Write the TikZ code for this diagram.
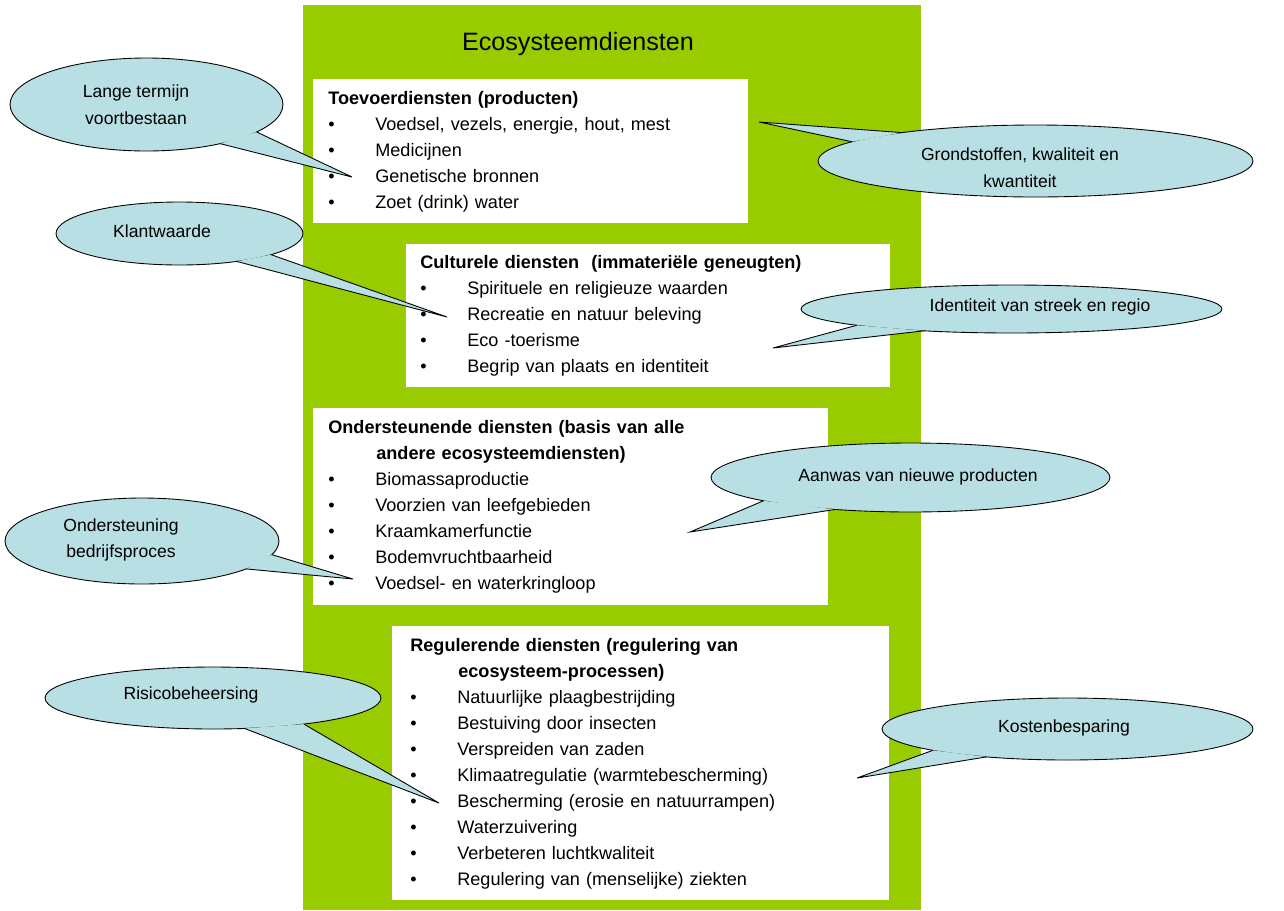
\documentclass[tikz,border=0pt]{standalone}
\usepackage{fontspec}
\setmainfont{Liberation Sans}
\usetikzlibrary{shapes.geometric, calc}
\definecolor{blad}{HTML}{99CC00}
\definecolor{ballonblauw}{HTML}{B8DFE3}
\newcommand{\punt}[1]{\makebox[0.94cm][l]{\textbullet}#1}

\begin{document}
\begin{tikzpicture}[x=0.02cm, y=-0.02cm,
  dienst/.style={rectangle, fill=white, anchor=north west, align=left, inner ysep=0pt, font=\fontsize{10.3}{14.8}\selectfont},
  ballon/.style={ellipse, draw=black, fill=ballonblauw, line width=0.5pt, inner sep=0pt, outer sep=0pt},
  ballontekst/.style={align=center, font=\fontsize{10}{15.2}\selectfont},
  staart/.style={draw=black, line width=0.5pt, line join=miter}
]
  \useasboundingbox (0,0) rectangle (1284,910);

  % groene achtergrond met titel
  \node[fill=blad, anchor=north west, minimum width=12.36cm, minimum height=18.1cm, inner sep=0pt] (kader) at (303,5) {};
  \node[font=\fontsize{14.3}{17}\selectfont] (titel) at (578,44) {Ecosysteemdiensten};

  % de vier soorten diensten
  \node[dienst, text width=8.1cm, inner xsep=0.3cm, minimum height=2.88cm] (toevoer) at (313,79)
    {\textbf{Toevoerdiensten (producten)}\\
     \punt{Voedsel, vezels, energie, hout, mest}\\
     \punt{Medicijnen}\\
     \punt{Genetische bronnen}\\
     \punt{Zoet (drink) water}};
  \node[dienst, text width=9.12cm, inner xsep=0.28cm, minimum height=2.86cm] (cultureel) at (406,244)
    {\textbf{Culturele diensten\ \ (immateriële geneugten)}\\
     \punt{Spirituele en religieuze waarden}\\
     \punt{Recreatie en natuur beleving}\\
     \punt{Eco -toerisme}\\
     \punt{Begrip van plaats en identiteit}};
  \node[dienst, text width=9.7cm, inner xsep=0.3cm, minimum height=3.94cm] (ondersteunend) at (313,408)
    {\textbf{Ondersteunende diensten (basis van alle}\\
     \hspace*{0.96cm}\textbf{andere ecosysteemdiensten)}\\
     \punt{Biomassaproductie}\\
     \punt{Voorzien van leefgebieden}\\
     \punt{Kraamkamerfunctie}\\
     \punt{Bodemvruchtbaarheid}\\
     \punt{Voedsel- en waterkringloop}};
  \node[dienst, text width=9.22cm, inner xsep=0.36cm, minimum height=5.48cm] (regulerend) at (392,626)
    {\textbf{Regulerende diensten (regulering van}\\
     \hspace*{0.96cm}\textbf{ecosysteem-processen)}\\
     \punt{Natuurlijke plaagbestrijding}\\
     \punt{Bestuiving door insecten}\\
     \punt{Verspreiden van zaden}\\
     \punt{Klimaatregulatie (warmtebescherming)}\\
     \punt{Bescherming (erosie en natuurrampen)}\\
     \punt{Waterzuivering}\\
     \punt{Verbeteren luchtkwaliteit}\\
     \punt{Regulering van (menselijke) ziekten}};

  % ballonnen
  \node[ballon, minimum width=5.46cm, minimum height=1.86cm] (lange) at (146.5,104.5) {};
  \node[ballon, minimum width=4.94cm, minimum height=1.26cm] (klant) at (179.5,233.5) {};
  \node[ballon, minimum width=8.7cm, minimum height=1.44cm] (grond) at (1035.5,161) {};
  \node[ballon, minimum width=8.42cm, minimum height=0.96cm] (identiteit) at (1011.5,309) {};
  \node[ballon, minimum width=7.98cm, minimum height=1.38cm] (aanwas) at (910.5,477.5) {};
  \node[ballon, minimum width=5.48cm, minimum height=1.72cm] (steun) at (142,541) {};
  \node[ballon, minimum width=6.72cm, minimum height=1.24cm] (risico) at (213,698) {};
  \node[ballon, minimum width=7.42cm, minimum height=1.24cm] (kosten) at (1067.5,729) {};

  \coordinate (pLange) at (352,177);
  \coordinate (pKlant) at (447,317);
  \coordinate (pGrond) at (759,122);
  \coordinate (pIdentiteit) at (773,348);
  \coordinate (pAanwas) at (690,532);
  \coordinate (pSteun) at (353,579);
  \coordinate (pRisico) at (439,803);
  \coordinate (pKosten) at (857,778);

  % staarten naar de diensten
  \foreach \b/\p/\q/\t in {lange/346.6/332.4/pLange, klant/347.9/334.4/pKlant,
      grond/174.5/168.2/pGrond, identiteit/186.4/194/pIdentiteit,
      aanwas/189.8/203.4/pAanwas, steun/354.7/345.3/pSteun,
      risico/344.1/316.8/pRisico, kosten/189.2/199.4/pKosten} {
    \fill[ballonblauw] (\b.\p) -- (\t) -- (\b.\q) -- cycle;
    \draw[staart] (\b.\p) -- (\t) -- (\b.\q);
  }

  \node[ballontekst] (langetxt) at (136,104.5) {Lange termijn\\voortbestaan};
  \node[ballontekst] (klanttxt) at (162,231) {Klantwaarde};
  \node[ballontekst] (grondtxt) at (1020,167.5) {Grondstoffen, kwaliteit en\\kwantiteit};
  \node[ballontekst] (identiteittxt) at (1040,307) {Identiteit van streek en regio};
  \node[ballontekst] (aanwastxt) at (918,477) {Aanwas van nieuwe producten};
  \node[ballontekst] (steuntxt) at (121,540) {Ondersteuning\\bedrijfsproces};
  \node[ballontekst] (risicotxt) at (191,695) {Risicobeheersing};
  \node[ballontekst] (kostentxt) at (1064,728) {Kostenbesparing};
\end{tikzpicture}
\end{document}
